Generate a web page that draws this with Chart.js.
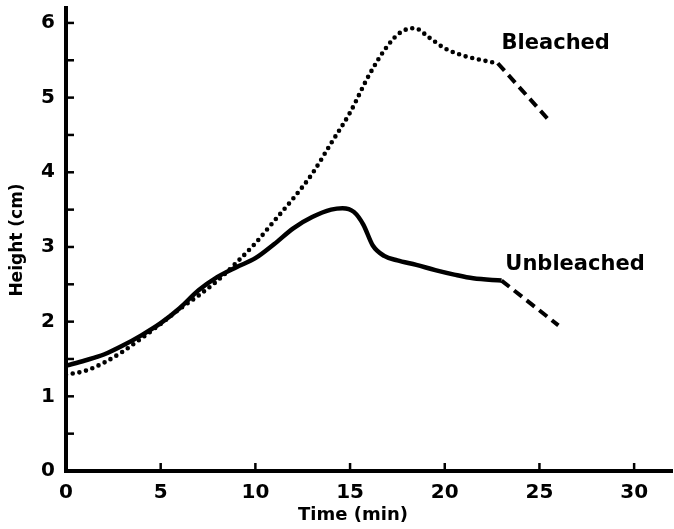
<!DOCTYPE html>
<html>
<head>
<meta charset="utf-8">
<script src="https://cdn.jsdelivr.net/npm/chart.js@4"></script>
<style>
    html, body { margin: 0; padding: 0; background: #fff; }
    #wrap { width: 674px; height: 529px; }
</style>
</head>
<body>
<div id="wrap"><canvas id="heightChart" width="674" height="529"></canvas></div>
<script>
// Data (time in min, height in cm)
const unbleachedTime = [0, 1, 2, 3, 4, 5, 6, 7, 8, 9, 10, 11, 12, 13, 14, 14.6, 15.2, 15.7, 16.2, 16.8, 17.5, 18.5, 19.5, 20.5, 21.5, 23];
const unbleachedHeight = [1.41, 1.48, 1.56, 1.68, 1.82, 1.98, 2.18, 2.42, 2.6, 2.73, 2.85, 3.04, 3.25, 3.4, 3.5, 3.52, 3.47, 3.3, 3.02, 2.88, 2.82, 2.76, 2.69, 2.63, 2.58, 2.55];
const unbleachedExtTime = [23, 26];
const unbleachedExtHeight = [2.55, 1.95];

const bleachedTime = [0, 1, 2, 3, 4, 5, 6, 7, 8, 9, 10, 11, 12, 13, 14, 15, 16, 17, 17.7, 18.4, 19.2, 20, 21, 22, 22.8];
const bleachedHeight = [1.29, 1.34, 1.45, 1.6, 1.78, 1.97, 2.17, 2.35, 2.55, 2.79, 3.05, 3.35, 3.65, 3.98, 4.39, 4.8, 5.3, 5.7, 5.88, 5.93, 5.8, 5.66, 5.56, 5.5, 5.46];
const bleachedExtTime = [22.8, 25.6];
const bleachedExtHeight = [5.46, 4.67];

const seriesNames = ['Bleached', 'Unbleached'];
// where each curve label sits, in data units (left edge, vertical centre)
const labelTime = [23.0, 23.2];
const labelHeight = [5.72, 2.76];

const xTitle = 'Time (min)';
const yTitle = 'Height (cm)';

const FONT = '"DejaVu Sans", sans-serif';

function toPoints(xs, ys) {
    return xs.map((x, i) => ({ x: x, y: ys[i] }));
}

// ticks pointing into the plot, plus titles and curve labels
const decorPlugin = {
    id: 'decor',
    afterDraw(chart) {
        const ctx = chart.ctx;
        const xs = chart.scales.x;
        const ys = chart.scales.y;
        const area = chart.chartArea;
        ctx.save();
        ctx.strokeStyle = '#000';
        ctx.lineWidth = 2.5;
        ys.ticks.forEach(t => {
            if (t.value === 0) return;
            const py = ys.getPixelForValue(t.value);
            ctx.beginPath();
            ctx.moveTo(area.left, py);
            ctx.lineTo(area.left + 8, py);
            ctx.stroke();
        });
        xs.ticks.forEach(t => {
            if (t.value === 0) return;
            const px = xs.getPixelForValue(t.value);
            ctx.beginPath();
            ctx.moveTo(px, area.bottom);
            ctx.lineTo(px, area.bottom - 8);
            ctx.stroke();
        });

        ctx.fillStyle = '#000';
        ctx.textBaseline = 'middle';
        ctx.textAlign = 'left';
        ctx.font = 'bold 21px ' + FONT;
        seriesNames.forEach((name, i) => {
            ctx.fillText(name, xs.getPixelForValue(labelTime[i]), ys.getPixelForValue(labelHeight[i]));
        });

        ctx.textAlign = 'center';
        ctx.font = 'bold 18px ' + FONT;
        ctx.fillText(xTitle, 353, 515);
        ctx.translate(18, 240);
        ctx.rotate(-Math.PI / 2);
        ctx.font = 'bold 17px ' + FONT;
        ctx.fillText(yTitle, 0, 0);
        ctx.restore();
    }
};

const ctx = document.getElementById('heightChart').getContext('2d');
const heightChart = new Chart(ctx, {
    type: 'line',
    data: {
        datasets: [
            {
                label: 'Unbleached',
                data: toPoints(unbleachedTime, unbleachedHeight),
                borderColor: '#000',
                borderWidth: 4.5,
                tension: 0.4,
                cubicInterpolationMode: 'monotone',
                pointRadius: 0
            },
            {
                label: 'Unbleached (extrapolated)',
                data: toPoints(unbleachedExtTime, unbleachedExtHeight),
                borderColor: '#000',
                borderWidth: 4,
                borderDash: [10, 6],
                pointRadius: 0
            },
            {
                label: 'Bleached',
                data: toPoints(bleachedTime, bleachedHeight),
                borderColor: '#000',
                borderWidth: 4.6,
                borderDash: [0, 6.8],
                borderCapStyle: 'round',
                tension: 0.4,
                cubicInterpolationMode: 'monotone',
                pointRadius: 0
            },
            {
                label: 'Bleached (extrapolated)',
                data: toPoints(bleachedExtTime, bleachedExtHeight),
                borderColor: '#000',
                borderWidth: 4,
                borderDash: [10, 6],
                pointRadius: 0
            }
        ]
    },
    options: {
        responsive: false,
        animation: false,
        plugins: {
            legend: { display: false },
            tooltip: { enabled: false }
        },
        layout: {
            padding: { top: 8, right: 2, left: 0, bottom: 0 }
        },
        scales: {
            x: {
                type: 'linear',
                min: 0,
                max: 32,
                afterFit(scale) {
                    scale.height = 58;
                    scale.paddingLeft = 0;
                    scale.paddingRight = 0;
                },
                border: { display: true, color: '#000', width: 4 },
                grid: { display: false, drawTicks: false },
                ticks: {
                    stepSize: 5,
                    includeBounds: false,
                    padding: 10,
                    color: '#000',
                    font: { family: FONT, size: 20, weight: 'bold' }
                }
            },
            y: {
                type: 'linear',
                min: 0,
                max: 6.2,
                afterFit(scale) {
                    scale.width = 66;
                    scale.paddingTop = 0;
                    scale.paddingBottom = 0;
                },
                border: { display: true, color: '#000', width: 4 },
                grid: { display: false, drawTicks: false },
                ticks: {
                    stepSize: 0.5,
                    includeBounds: false,
                    autoSkip: false,
                    padding: 11,
                    color: '#000',
                    font: { family: FONT, size: 20, weight: 'bold' },
                    callback: v => (Number.isInteger(v) ? v : '')
                }
            }
        }
    },
    plugins: [decorPlugin]
});
</script>
</body>
</html>
